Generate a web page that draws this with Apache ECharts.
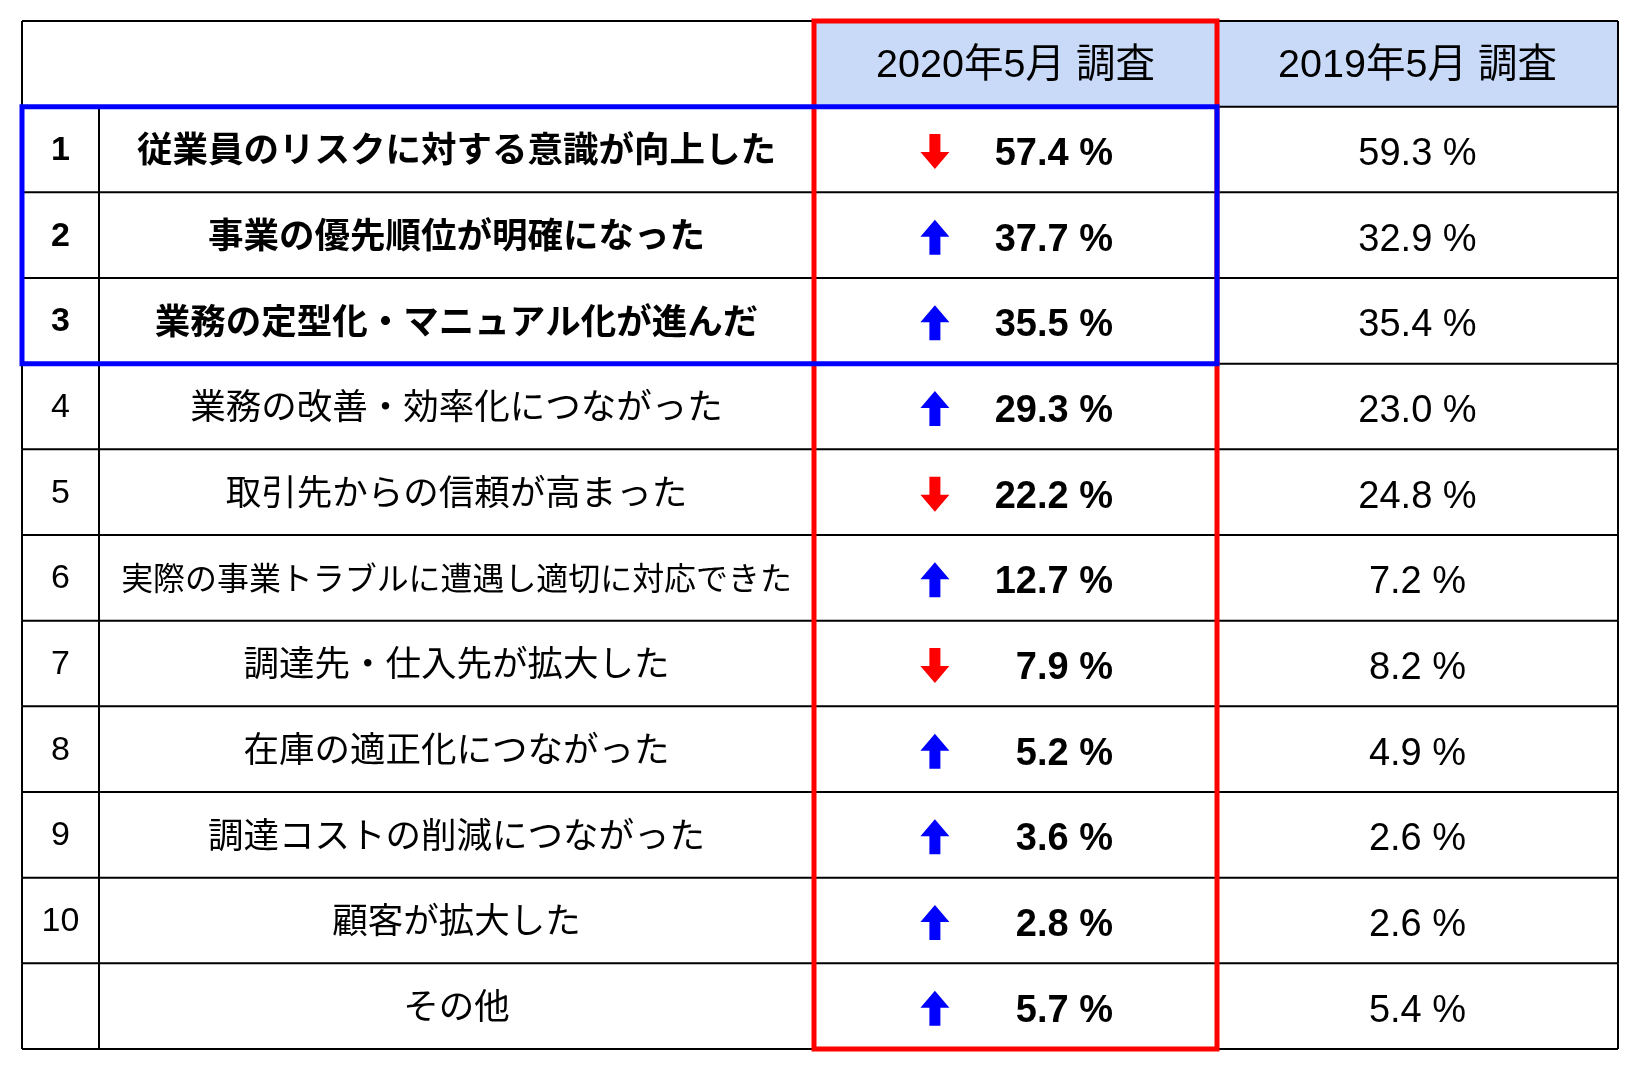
<!DOCTYPE html>
<html>
<head>
<meta charset="utf-8">
<title>BCP策定の効果</title>
<script src="https://cdn.jsdelivr.net/npm/echarts@6/dist/echarts.min.js"></script>
<style>
  html, body { margin: 0; padding: 0; background: #fff; }
  #chart { width: 1634px; height: 1066px; }
</style>
</head>
<body>
<div id="chart"></div>
<script>
// table content
const ranks = ['1', '2', '3', '4', '5', '6', '7', '8', '9', '10', ''];
const items = [
  '従業員のリスクに対する意識が向上した',
  '事業の優先順位が明確になった',
  '業務の定型化・マニュアル化が進んだ',
  '業務の改善・効率化につながった',
  '取引先からの信頼が高まった',
  '実際の事業トラブルに遭遇し適切に対応できた',
  '調達先・仕入先が拡大した',
  '在庫の適正化につながった',
  '調達コストの削減につながった',
  '顧客が拡大した',
  'その他'
];
const survey2020 = [57.4, 37.7, 35.5, 29.3, 22.2, 12.7, 7.9, 5.2, 3.6, 2.8, 5.7];
const survey2019 = [59.3, 32.9, 35.4, 23.0, 24.8, 7.2, 8.2, 4.9, 2.6, 2.6, 5.4];
const headers = ['2020年5月 調査', '2019年5月 調査'];
const topCount = 3;

// layout (relative column widths on the x value axis)
const colWidths = [77, 715, 403, 401];
const colEdges = [0];
colWidths.forEach(w => colEdges.push(colEdges[colEdges.length - 1] + w));
const rowKeys = ['header'].concat(items.map((_, i) => 'r' + i));

const FONT = "'Liberation Sans', Arial, 'Noto Sans CJK JP', sans-serif";
const headerFill = '#c9daf8';
const upColor = '#0000ff';
const downColor = '#ff0000';

// shrink long labels so they fit the cell (like the spreadsheet did)
const measureCtx = document.createElement('canvas').getContext('2d');
function fitSize(str, size, bold, maxWidth) {
  measureCtx.font = (bold ? 'bold ' : '') + size + 'px ' + FONT;
  const w = measureCtx.measureText(str).width;
  return w > maxWidth ? size * maxWidth / w : size;
}

function arrowPoints(cx, cy, up) {
  const hw = 14.5, sw = 5.5, hh = 17.5, head = 17;
  const s = up ? 1 : -1;
  const tipY = cy - s * hh;
  const baseY = tipY + s * head;
  const endY = cy + s * hh;
  return [
    [cx, tipY], [cx + hw, baseY], [cx + sw, baseY], [cx + sw, endY],
    [cx - sw, endY], [cx - sw, baseY], [cx - hw, baseY]
  ];
}

function text(x, y, str, size, bold, align) {
  return {
    type: 'text',
    style: {
      x: x, y: y, text: str,
      fill: '#000',
      font: (bold ? 'bold ' : '') + size + 'px ' + FONT,
      align: align || 'center',
      verticalAlign: 'middle'
    }
  };
}

function renderRow(params, api) {
  const row = api.value(1);
  const h = api.size([0, 1])[1];
  const yc = api.coord([0, row])[1];
  const top = yc - h / 2;
  const bottom = yc + h / 2;
  const xs = colEdges.map(e => api.coord([e, row])[0]);
  const children = [];
  const line = (x1, y1, x2, y2) => children.push({
    type: 'line',
    shape: { x1: x1, y1: y1, x2: x2, y2: y2 },
    style: { stroke: '#000', lineWidth: 2 }
  });

  if (row === 0) {
    for (let c = 2; c < 4; c++) {
      children.push({
        type: 'rect',
        shape: { x: xs[c], y: top, width: xs[c + 1] - xs[c], height: h },
        style: { fill: headerFill }
      });
    }
  }

  // borders
  line(xs[0], top, xs[4], top);
  if (row === rowKeys.length - 1) line(xs[0], bottom, xs[4], bottom);
  xs.forEach((x, c) => {
    if (row === 0 && c === 1) return;
    line(x, top, x, bottom);
  });

  if (row === 0) {
    children.push(text((xs[2] + xs[3]) / 2, yc + 2, headers[0], 39.5, false));
    children.push(text((xs[3] + xs[4]) / 2, yc + 2, headers[1], 39.5, false));
  } else {
    const i = row - 1;
    const bold = i < topCount;
    children.push(text((xs[0] + xs[1]) / 2, yc + 1, ranks[i], 34, bold));
    const labelSize = fitSize(items[i], 35.5, bold, xs[2] - xs[1] - 44);
    children.push(text((xs[1] + xs[2]) / 2, yc + 3, items[i], labelSize, bold));
    const up = survey2020[i] > survey2019[i];
    const cw = xs[3] - xs[2];
    children.push({
      type: 'polygon',
      shape: { points: arrowPoints(xs[2] + cw * 0.3, yc + 2, up) },
      style: { fill: up ? upColor : downColor }
    });
    children.push(text(xs[2] + cw * 0.742, yc + 5, survey2020[i].toFixed(1) + ' %', 38, true, 'right'));
    children.push(text((xs[3] + xs[4]) / 2, yc + 5, survey2019[i].toFixed(1) + ' %', 38, false));
  }
  return { type: 'group', children: children };
}

function renderHighlights(params, api) {
  const h = api.size([0, 1])[1];
  const rowTop = r => api.coord([0, r])[1] - h / 2;
  const x = e => api.coord([e, 0])[0];
  const last = rowKeys.length - 1;
  const red = {
    type: 'rect',
    shape: { x: x(colEdges[2]), y: rowTop(0), width: x(colEdges[3]) - x(colEdges[2]), height: rowTop(last) + h - rowTop(0) },
    style: { fill: 'none', stroke: '#ff0000', lineWidth: 5 }
  };
  const blue = {
    type: 'rect',
    shape: { x: x(colEdges[0]), y: rowTop(1), width: x(colEdges[3]) - x(colEdges[0]), height: rowTop(topCount + 1) - rowTop(1) },
    style: { fill: 'none', stroke: '#0000ff', lineWidth: 5 }
  };
  return { type: 'group', children: [red, blue] };
}

const chart = echarts.init(document.getElementById('chart'));
chart.setOption({
  backgroundColor: '#fff',
  animation: false,
  grid: { left: 22, top: 21, width: colEdges[4], height: 1028 },
  xAxis: {
    type: 'value', min: 0, max: colEdges[4],
    show: false
  },
  yAxis: {
    type: 'category', data: rowKeys, inverse: true,
    show: false
  },
  series: [
    {
      type: 'custom',
      name: 'table',
      renderItem: renderRow,
      encode: { x: 0, y: 1 },
      data: rowKeys.map((_, i) => [0, i]),
      silent: true
    },
    {
      type: 'custom',
      name: 'highlights',
      renderItem: renderHighlights,
      encode: { x: 0, y: 1 },
      data: [[0, 0]],
      silent: true,
      z: 3
    }
  ]
});
</script>
</body>
</html>
